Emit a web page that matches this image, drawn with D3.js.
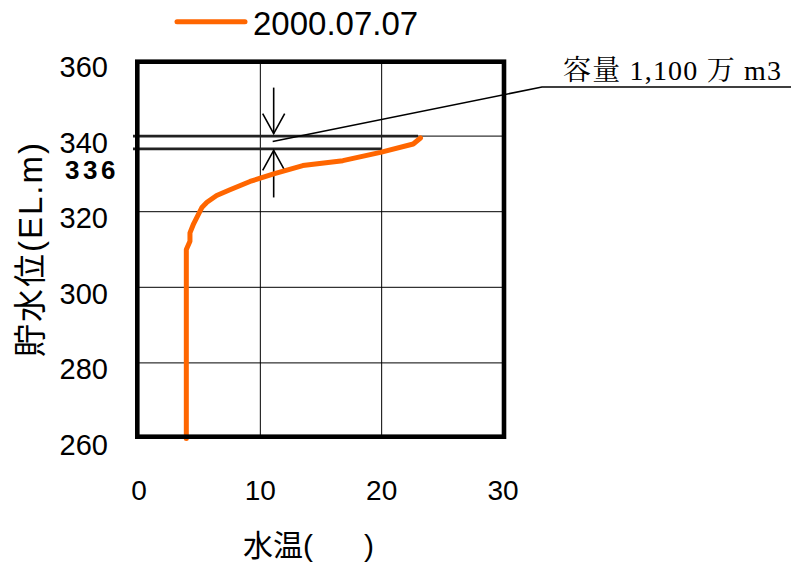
<!DOCTYPE html>
<html>
<head>
<meta charset="utf-8">
<script src="https://cdn.jsdelivr.net/npm/d3@7"></script>
<style>
  body { margin: 0; background: #fff; }
  svg { display: block; }
  text { font-family: "Liberation Sans", Arial, "Noto Sans CJK JP", sans-serif; fill: #000; }
</style>
</head>
<body>
<div id="chart"></div>
<script>
// water temperature profile, 2000.07.07
const seriesName = "2000.07.07";
const temps  = [3.9, 3.9, 3.9, 4.2, 4.2, 4.5, 5.2, 5.6, 6.4, 7.5, 9.15, 11.1, 13.5, 16.8, 19.9, 22.6, 23.2];
const levels = [260, 290, 310, 312.2, 314.4, 316.8, 321.2, 322.5, 324.3, 325.8, 328, 330, 332.2, 333.5, 335.7, 337.9, 339.5];

const xTicks = [0, 10, 20, 30];
const yTicks = [260, 280, 300, 320, 340, 360];

// volume band between two levels
const bandLevels = [340, 336.6];
const bandEnds   = [23.0, 20];
const bandLabel  = "336";
const arrowTemp  = 11.1;
const noteText   = "容量 1,100 万 m3";

const width = 791, height = 564;
const svg = d3.select("#chart").append("svg")
  .attr("width", width)
  .attr("height", height);

const x = d3.scaleLinear().domain([0, 30]).range([139, 503]);
const y = d3.scaleLinear().domain([260, 360]).range([438.5, 60.5]);

// grid
const grid = svg.append("g");
grid.selectAll("line.v")
  .data(xTicks.slice(1, -1))
  .enter().append("line")
  .attr("x1", d => x(d)).attr("x2", d => x(d))
  .attr("y1", y(360)).attr("y2", y(260))
  .attr("stroke", "#000").attr("stroke-width", 1);
grid.selectAll("line.h")
  .data(yTicks.slice(1, -1))
  .enter().append("line")
  .attr("x1", x(0)).attr("x2", x(30))
  .attr("y1", d => y(d)).attr("y2", d => y(d))
  .attr("stroke", "#000").attr("stroke-width", 1);

// band lines (340 / 336)
svg.selectAll("line.band")
  .data(bandLevels)
  .enter().append("line")
  .attr("x1", x(0) - 6)
  .attr("x2", (d, i) => x(bandEnds[i]))
  .attr("y1", d => y(d)).attr("y2", d => y(d))
  .attr("stroke", "#222").attr("stroke-width", 2.8);

// arrows pointing at the band
const ax = x(arrowTemp);
const arrows = svg.append("g").attr("stroke", "#000").attr("stroke-width", 1.6).attr("fill", "none");
const topTip = y(bandLevels[0]) - 2.5, botTip = y(bandLevels[1]) + 1.5;
arrows.append("line").attr("x1", ax).attr("x2", ax).attr("y1", topTip - 46).attr("y2", topTip);
arrows.append("path").attr("d", `M${ax - 11},${topTip - 20}L${ax},${topTip}L${ax + 11},${topTip - 20}`);
arrows.append("line").attr("x1", ax).attr("x2", ax).attr("y1", botTip).attr("y2", botTip + 47);
arrows.append("path").attr("d", `M${ax - 11},${botTip + 20}L${ax},${botTip}L${ax + 11},${botTip + 20}`);

// leader line to the note
const leadStart = [x(arrowTemp) - 1, y(338.6)];
const leadKnee = [542, 87];
svg.append("path")
  .attr("d", `M${leadStart[0]},${leadStart[1]}L${leadKnee[0]},${leadKnee[1]}L${width},${leadKnee[1]}`)
  .attr("fill", "none").attr("stroke", "#000").attr("stroke-width", 1.5);

svg.append("text")
  .attr("x", 563).attr("y", 80)
  .attr("textLength", 218)
  .attr("lengthAdjust", "spacing")
  .style("font-family", '"Liberation Serif", "Times New Roman", "Noto Serif CJK JP", "Noto Sans CJK JP", serif')
  .style("font-size", "28px")
  .text(noteText);

// series line
const line = d3.line()
  .x(d => x(d[0]))
  .y(d => y(d[1]));
svg.append("path")
  .datum(temps.map((t, i) => [t, levels[i]]))
  .attr("d", line)
  .attr("fill", "none")
  .attr("stroke", "#FF6600")
  .attr("stroke-width", 5)
  .attr("stroke-linejoin", "round")
  .attr("stroke-linecap", "round");

// frame
svg.append("rect")
  .attr("x", 137.3).attr("y", 61.7)
  .attr("width", 504 - 137.3).attr("height", 436.7 - 61.7)
  .attr("fill", "none").attr("stroke", "#000").attr("stroke-width", 4.6);

// y tick labels
svg.selectAll("text.yt")
  .data(yTicks)
  .enter().append("text")
  .attr("x", 108)
  .attr("y", d => y(d) + 6)
  .attr("dy", "0.36em")
  .attr("text-anchor", "end")
  .style("font-size", "29px")
  .text(d => d);

svg.append("text")
  .attr("x", 65).attr("y", 179)
  .style("font-size", "26px")
  .style("font-weight", "bold")
  .style("letter-spacing", "3.5px")
  .text(bandLabel);

// x tick labels
svg.selectAll("text.xt")
  .data(xTicks)
  .enter().append("text")
  .attr("x", d => x(d))
  .attr("y", 500)
  .attr("text-anchor", "middle")
  .style("font-size", "28px")
  .text(d => d);

// axis titles
svg.append("text")
  .attr("x", 243).attr("y", 556)
  .style("font-size", "30px")
  .text("水温(");
svg.append("text")
  .attr("x", 364).attr("y", 556)
  .style("font-size", "30px")
  .text(")");

svg.append("text")
  .attr("transform", "translate(30,250) rotate(-90)")
  .attr("text-anchor", "middle")
  .attr("dy", "0.36em")
  .attr("textLength", 214)
  .attr("lengthAdjust", "spacing")
  .style("font-size", "33px")
  .text("貯水位(EL.m)");

// legend
const legend = svg.append("g");
legend.append("line")
  .attr("x1", 177).attr("x2", 245)
  .attr("y1", 21.7).attr("y2", 21.7)
  .attr("stroke", "#FF6600").attr("stroke-width", 5)
  .attr("stroke-linecap", "round");
legend.append("text")
  .attr("x", 253).attr("y", 35)
  .style("font-size", "33px")
  .text(seriesName);
</script>
</body>
</html>
